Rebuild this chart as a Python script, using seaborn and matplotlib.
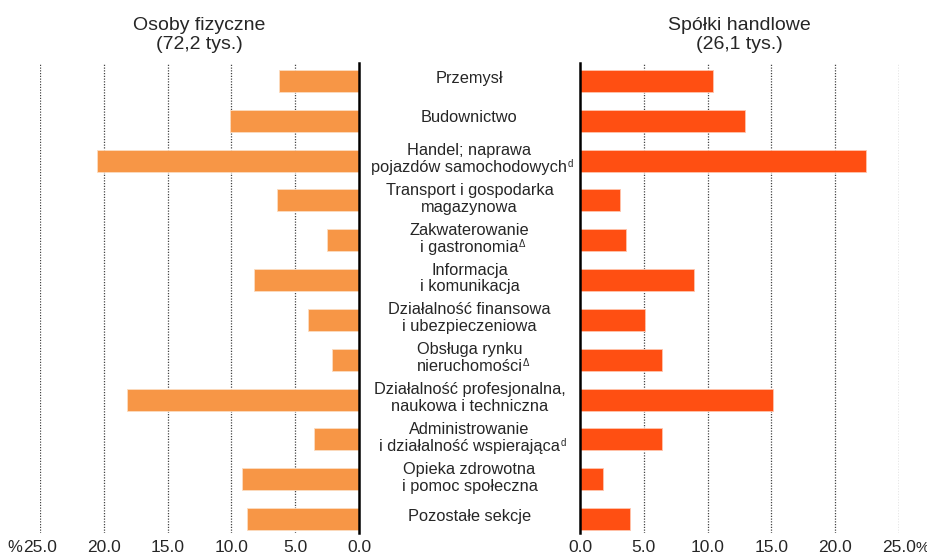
import matplotlib
matplotlib.use("Agg")
import matplotlib.pyplot as plt
import matplotlib.transforms as mtransforms
import seaborn as sns
import pandas as pd

# category labels (centre column), one entry per line; superscript marks apart
categories = [
    ["Przemysł"],
    ["Budownictwo"],
    ["Handel; naprawa", "pojazdów samochodowych"],
    ["Transport i gospodarka", "magazynowa"],
    ["Zakwaterowanie", "i gastronomia"],
    ["Informacja", "i komunikacja"],
    ["Działalność finansowa", "i ubezpieczeniowa"],
    ["Obsługa rynku", "nieruchomości"],
    ["Działalność profesjonalna,", "naukowa i techniczna"],
    ["Administrowanie", "i działalność wspierająca"],
    ["Opieka zdrowotna", "i pomoc społeczna"],
    ["Pozostałe sekcje"],
]
footnotes = ["", "", "d", "", "Δ", "", "", "Δ", "", "d", "", ""]

# shares in %
osoby_fizyczne = [6.3, 10.1, 20.5, 6.4, 2.5, 8.2, 4.0, 2.1, 18.2, 3.5, 9.2, 8.8]
spolki_handlowe = [10.4, 12.9, 22.4, 3.1, 3.6, 8.9, 5.1, 6.4, 15.1, 6.4, 1.8, 3.9]

x_ticks = [0, 5, 10, 15, 20, 25]
left_title = "Osoby fizyczne\n(72,2 tys.)"
right_title = "Spółki handlowe\n(26,1 tys.)"

df = pd.DataFrame({
    "sekcja": [str(i) for i in range(len(categories))],
    "osoby": osoby_fizyczne,
    "spolki": spolki_handlowe,
})

sns.set_style("white")
plt.rcParams["font.family"] = ["Liberation Sans", "DejaVu Sans"]

fig = plt.figure(figsize=(9.28, 5.56), dpi=100)
W, H = 928, 556
top_px, bot_px = 63, 533
ax_l = fig.add_axes([40 / W, 1 - bot_px / H, 319 / W, (bot_px - top_px) / H])
ax_r = fig.add_axes([580 / W, 1 - bot_px / H, 319 / W, (bot_px - top_px) / H])

sns.barplot(data=df, x="osoby", y="sekcja", ax=ax_l, color="#F79646",
            saturation=1, width=0.55, orient="h",
            edgecolor="#FCDCC0", linewidth=0.6)
sns.barplot(data=df, x="spolki", y="sekcja", ax=ax_r, color="#FF4F12",
            saturation=1, width=0.55, orient="h",
            edgecolor="#FFC4AC", linewidth=0.6)

ax_l.set_xlim(25, 0)
ax_r.set_xlim(0, 25)

tick_pad = 5.4
for ax in (ax_l, ax_r):
    ax.set_ylim(11.35, -0.45)
    ax.set_ylabel("")
    ax.set_xlabel("")
    ax.set_yticks([])
    ax.set_xticks(x_ticks)
    ax.set_xticklabels([f"{t:.1f}" for t in x_ticks], fontsize=12.5)
    ax.tick_params(axis="x", length=0, pad=tick_pad)
    for s in ax.spines.values():
        s.set_visible(False)
    for t in x_ticks[1:]:
        ax.axvline(t, color="#444444", lw=0.9, ls=(0, (1, 1.2)), zorder=0)

ax_l.spines["right"].set_visible(True)
ax_l.spines["right"].set_color("black")
ax_l.spines["right"].set_linewidth(1.8)
ax_r.spines["left"].set_visible(True)
ax_r.spines["left"].set_color("black")
ax_r.spines["left"].set_linewidth(1.8)

ax_l.set_title(left_title, fontsize=14, pad=10, linespacing=1.15)
ax_r.set_title(right_title, fontsize=14, pad=10, linespacing=1.15)

# category labels in the middle column (baseline offsets in row units)
trans = mtransforms.blended_transform_factory(fig.transFigure, ax_l.transData)
for i, lines in enumerate(categories):
    offsets = [0.04] if len(lines) == 1 else [-0.14, 0.285]
    for line, off in zip(lines, offsets):
        txt = ax_l.text(469.5 / W, i + off, line, transform=trans, ha="center",
                        va="baseline", fontsize=11.8)
    if footnotes[i]:
        ax_l.annotate(footnotes[i], xy=(1, 0.72), xycoords=txt,
                      xytext=(0.3, 0), textcoords="offset points",
                      ha="left", va="center", fontsize=7)

# percent signs next to the end ticks
pct_y = 1 - (bot_px + tick_pad * 100 / 72) / H
fig.text(22 / W, pct_y, "%", ha="right", va="top", fontsize=12)
fig.text(916 / W, pct_y, "%", ha="left", va="top", fontsize=11)

fig.savefig("out.png", dpi=100)
